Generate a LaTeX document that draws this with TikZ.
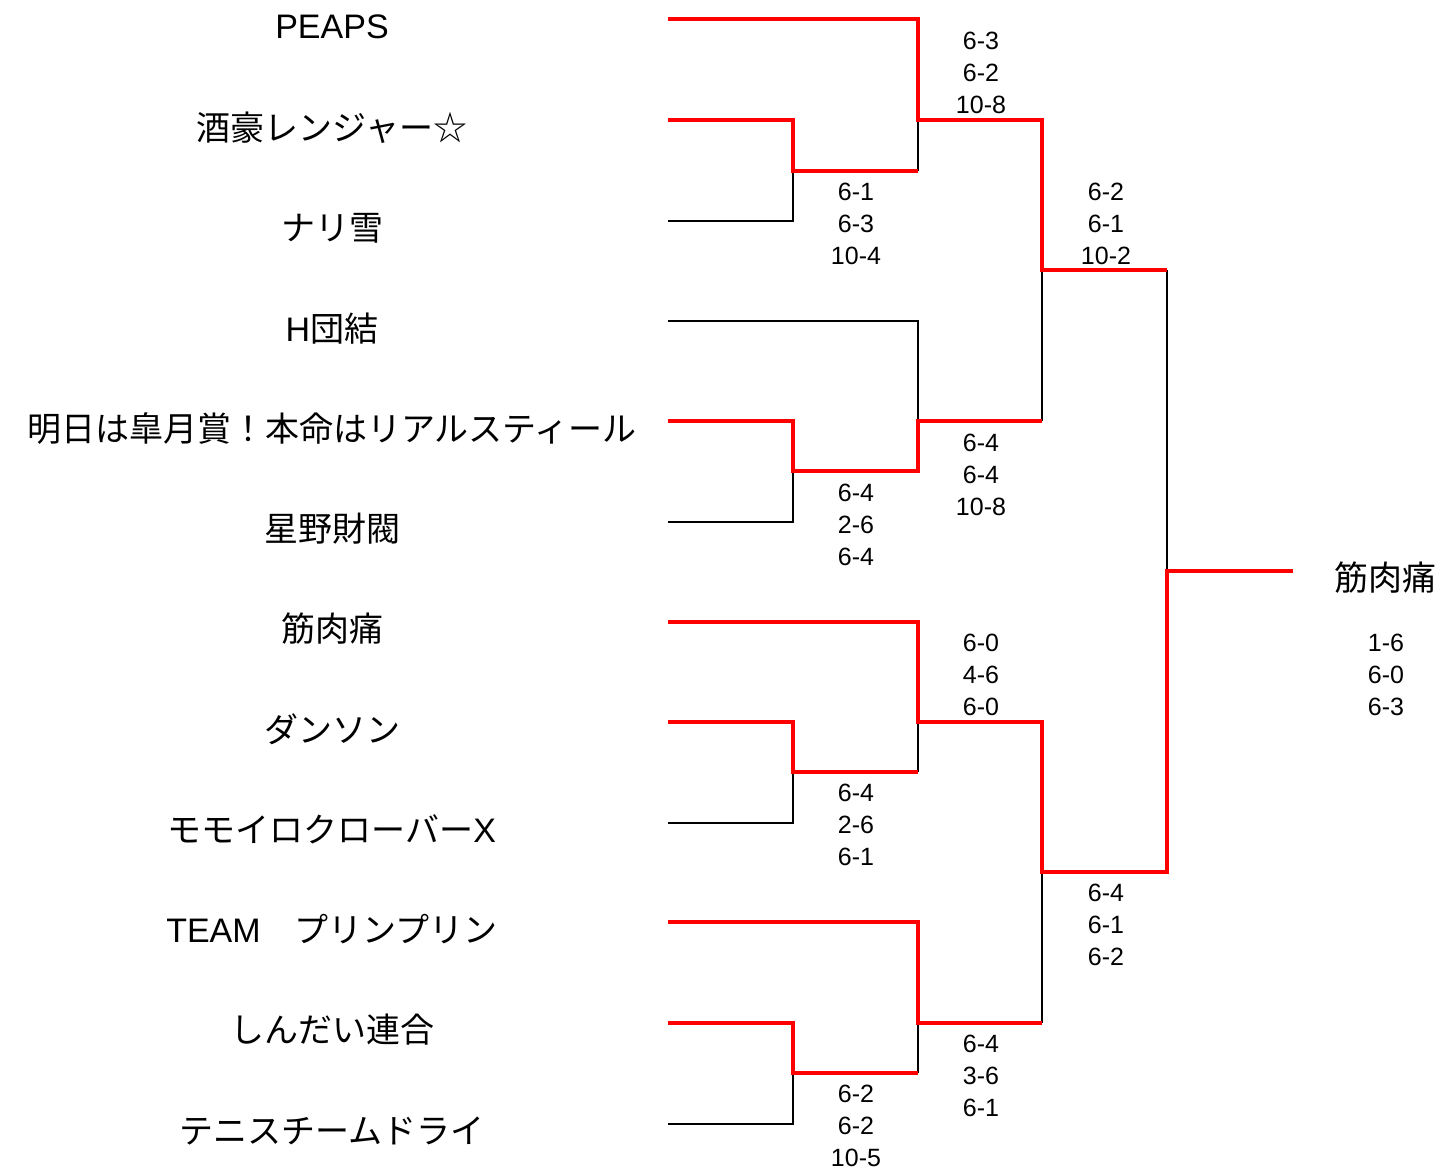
\documentclass[tikz,border=0pt]{standalone}
\usepackage{fontspec}
\setmainfont{Liberation Sans}
\newfontfamily\jp{Noto Sans CJK JP}
\begin{document}
    \begin{tikzpicture}[
        x = .5pt,
        y = -.5pt,
        lose/.style = {draw=black, line width=1.4pt},
        win/.style = {draw=red, line width=2pt},
        team/.style = {font=\fontsize{17}{20}\selectfont},
        score/.style = {align=center, font=\fontsize{12.5}{16}\selectfont}
    ]
        \useasboundingbox (0,0) rectangle (1445,1170);
        % line ends
        \coordinate (t1) at (668, 19);
        \coordinate (t2) at (668, 120);
        \coordinate (t3) at (668, 221);
        \coordinate (t4) at (668, 321);
        \coordinate (t5) at (668, 421);
        \coordinate (t6) at (668, 522);
        \coordinate (t7) at (668, 622);
        \coordinate (t8) at (668, 722);
        \coordinate (t9) at (668, 823);
        \coordinate (t10) at (668, 922);
        \coordinate (t11) at (668, 1023);
        \coordinate (t12) at (668, 1124);
        % joins
        \coordinate (m1) at (793, 171);
        \coordinate (m2) at (793, 471);
        \coordinate (m3) at (793, 772);
        \coordinate (m4) at (793, 1073);
        \coordinate (q1) at (918, 120);
        \coordinate (q2) at (918, 421);
        \coordinate (q3) at (918, 722);
        \coordinate (q4) at (918, 1023);
        \coordinate (s1) at (1042, 270);
        \coordinate (s2) at (1042, 872);
        \coordinate (f) at (1167, 571);
        \coordinate (w) at (1293, 571);

        % teams
        \node[team] (n1) at (332, 27) {PEAPS};
        \node[team] (n2) at (332, 128) {\jp 酒豪レンジャー☆};
        \node[team] (n3) at (332, 228) {\jp ナリ雪};
        \node[team] (n4) at (332, 329) {H{\jp 団結}};
        \node[team] (n5) at (332, 429) {\jp 明日は皐月賞！本命はリアルスティール};
        \node[team] (n6) at (332, 529) {\jp 星野財閥};
        \node[team] (n7) at (332, 629) {\jp 筋肉痛};
        \node[team] (n8) at (332, 729) {\jp ダンソン};
        \node[team] (n9) at (332, 829) {{\jp モモイロクローバー}X};
        \node[team] (n10) at (332, 929) {TEAM{\jp 　プリンプリン}};
        \node[team] (n11) at (332, 1030) {\jp しんだい連合};
        \node[team] (n12) at (332, 1131) {\jp テニスチームドライ};
        \node[team] (champ) at (1385, 578) {\jp 筋肉痛};

        % lost
        \draw[lose] (t3) -| (m1);
        \draw[lose] (m1 -| q1) -- (q1);
        \draw[lose] (t4) -| (q2);
        \draw[lose] (t6) -| (m2);
        \draw[lose] (q2 -| s1) -- (s1);
        \draw[lose] (t9) -| (m3);
        \draw[lose] (m3 -| q3) -- (q3);
        \draw[lose] (t12) -| (m4);
        \draw[lose] (m4 -| q4) -- (q4);
        \draw[lose] (q4 -| s2) -- (s2);
        \draw[lose] (s1 -| f) -- (f);

        % won
        \draw[win] (t1) -| (q1) -| (s1) -- (s1 -| f);
        \draw[win] (t2) -| (m1) -- (m1 -| q1);
        \draw[win] (t5) -| (m2) -| (q2) -- (q2 -| s1);
        \draw[win] (t7) -| (q3) -| (s2) -| (f) -- (w);
        \draw[win] (t8) -| (m3) -- (m3 -| q3);
        \draw[win] (t10) -| (q4) -- (q4 -| s2);
        \draw[win] (t11) -| (m4) -- (m4 -| q4);

        % scores
        \node[score] (sc1) at (856, 224) {6-1\\6-3\\10-4};
        \node[score] (sc2) at (981, 73) {6-3\\6-2\\10-8};
        \node[score] (sc3) at (1106, 224) {6-2\\6-1\\10-2};
        \node[score] (sc4) at (856, 525) {6-4\\2-6\\6-4};
        \node[score] (sc5) at (981, 475) {6-4\\6-4\\10-8};
        \node[score] (sc6) at (981, 675) {6-0\\4-6\\6-0};
        \node[score] (sc7) at (856, 825) {6-4\\2-6\\6-1};
        \node[score] (sc8) at (1106, 925) {6-4\\6-1\\6-2};
        \node[score] (sc9) at (981, 1076) {6-4\\3-6\\6-1};
        \node[score] (sc10) at (856, 1126) {6-2\\6-2\\10-5};
        \node[score] (sc11) at (1386, 675) {1-6\\6-0\\6-3};
    \end{tikzpicture}
\end{document}
